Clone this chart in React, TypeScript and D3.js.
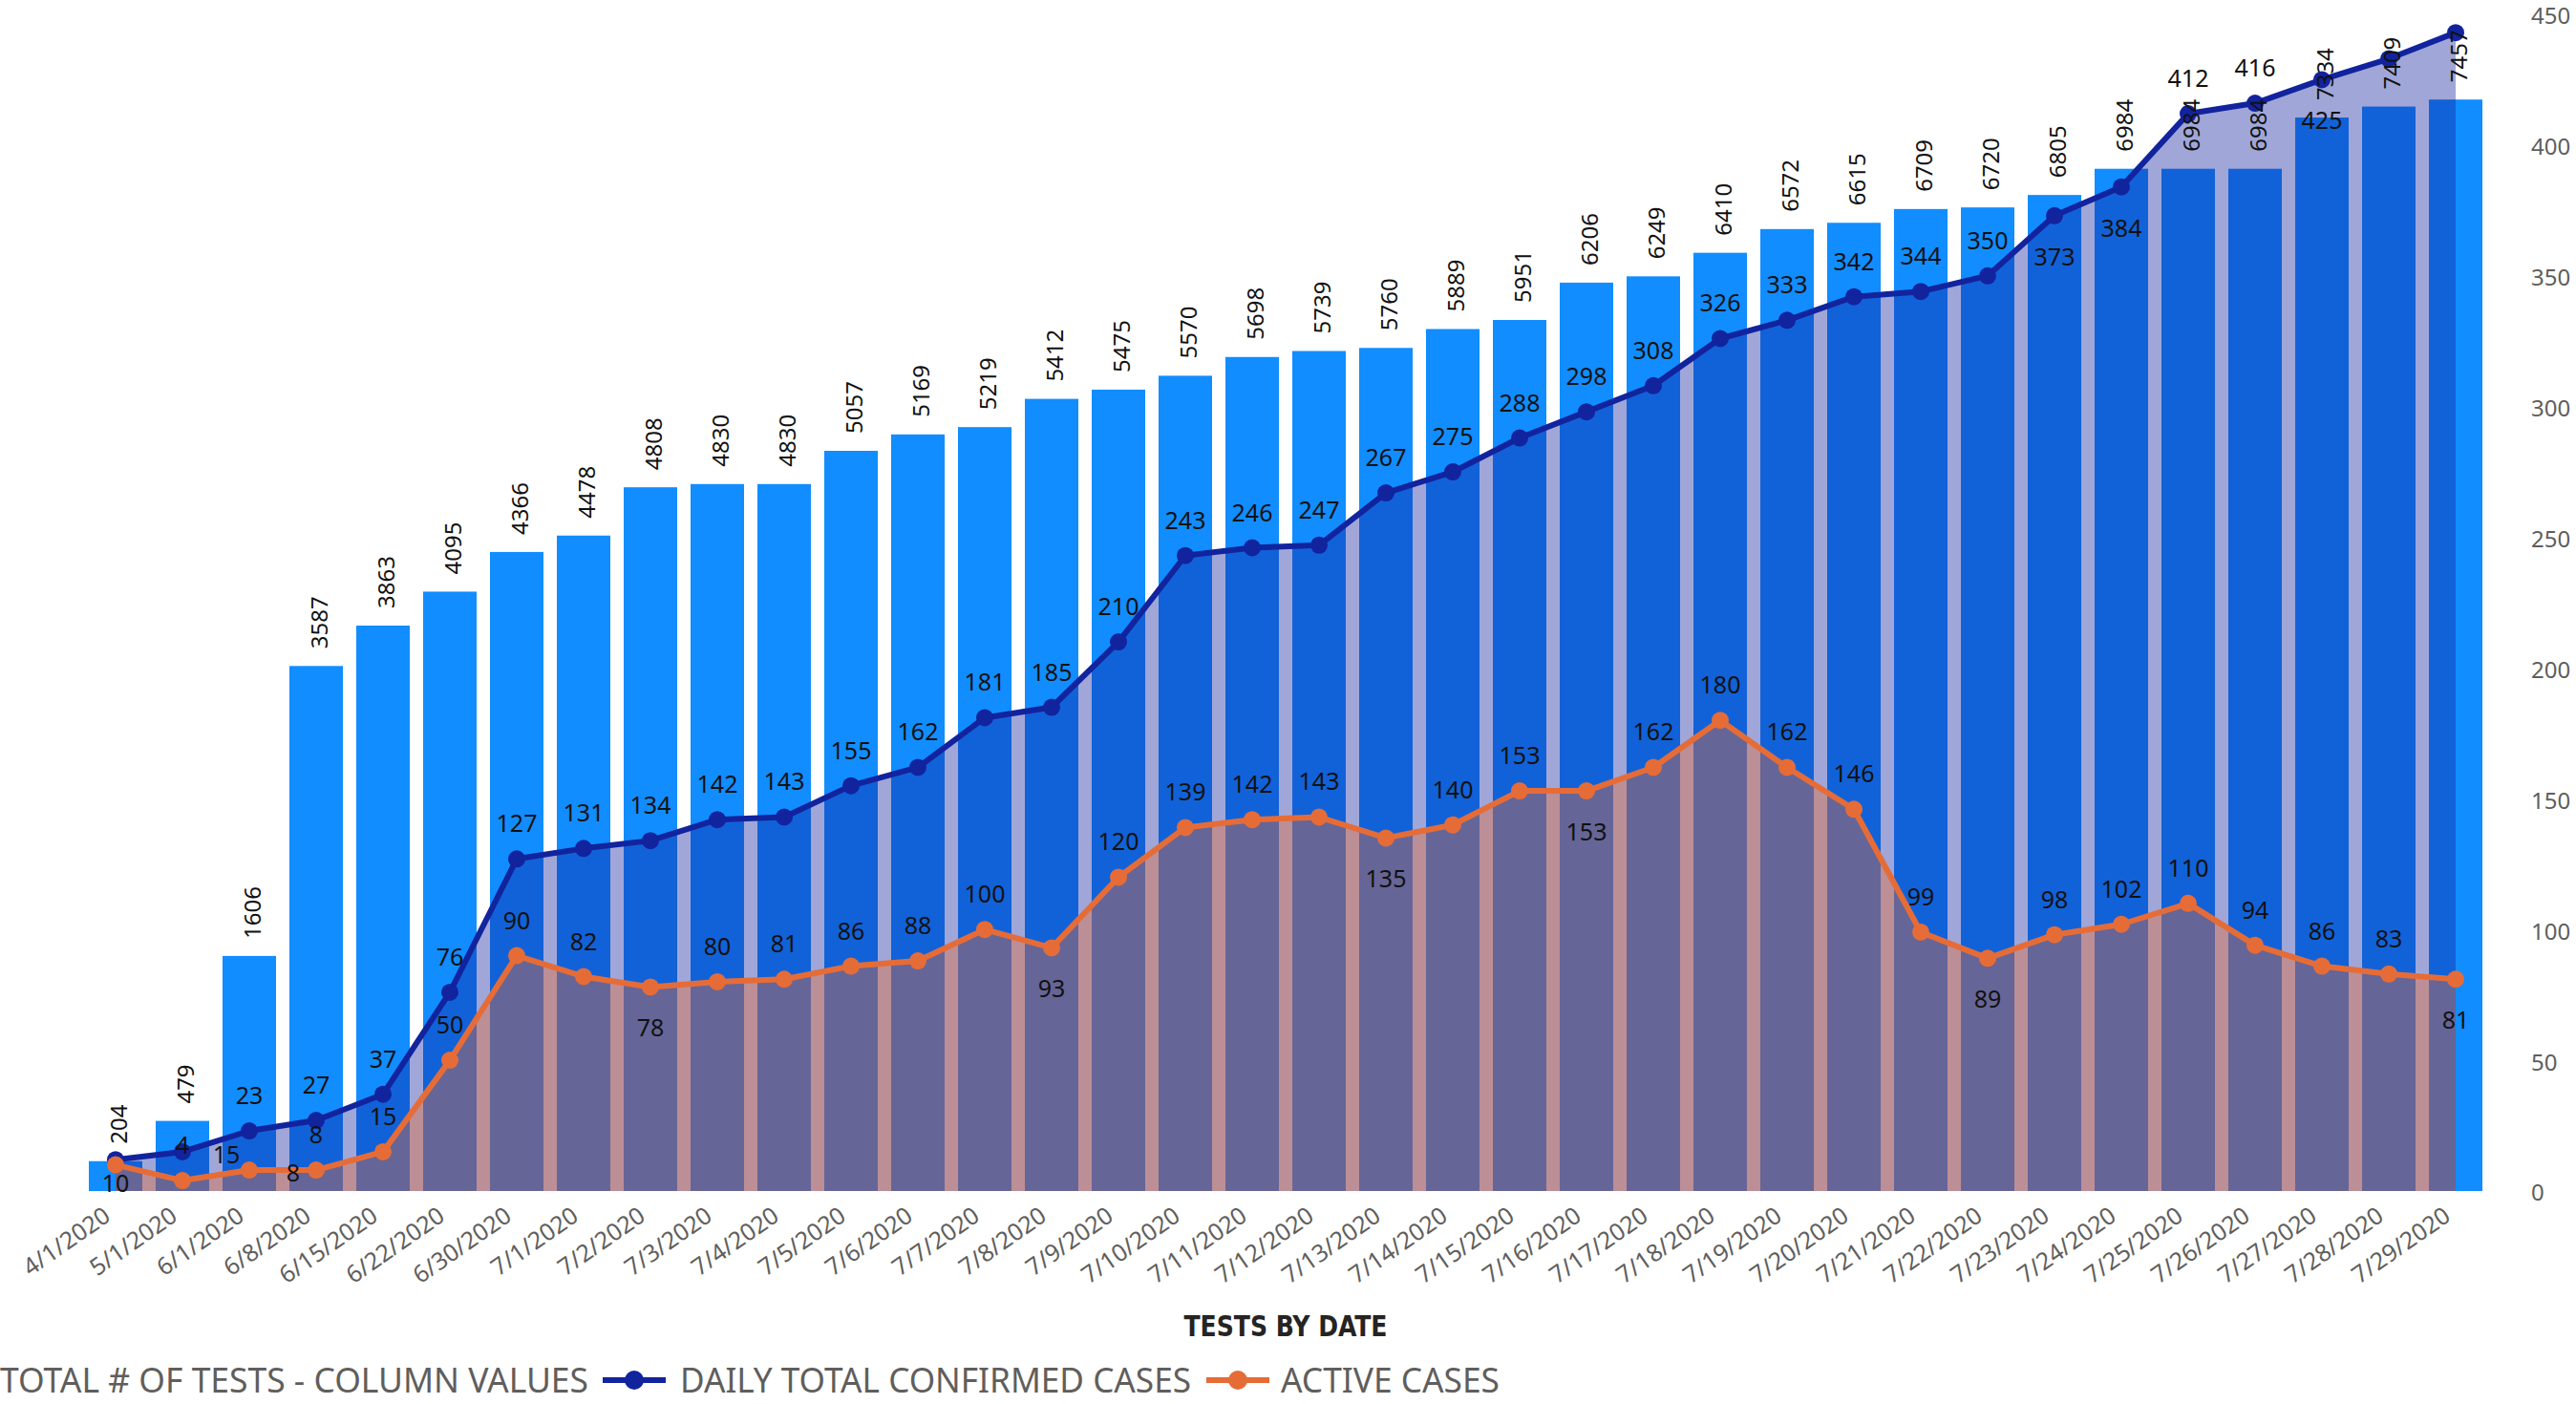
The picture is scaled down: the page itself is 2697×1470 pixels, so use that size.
import React from 'react';
import * as d3 from 'd3';

const categories = [
  '4/1/2020', '5/1/2020', '6/1/2020', '6/8/2020', '6/15/2020', '6/22/2020', '6/30/2020',
  '7/1/2020', '7/2/2020', '7/3/2020', '7/4/2020', '7/5/2020', '7/6/2020', '7/7/2020',
  '7/8/2020', '7/9/2020', '7/10/2020', '7/11/2020', '7/12/2020', '7/13/2020', '7/14/2020',
  '7/15/2020', '7/16/2020', '7/17/2020', '7/18/2020', '7/19/2020', '7/20/2020', '7/21/2020',
  '7/22/2020', '7/23/2020', '7/24/2020', '7/25/2020', '7/26/2020', '7/27/2020', '7/28/2020',
  '7/29/2020',
];

const totalTests = [
  204, 479, 1606, 3587, 3863, 4095, 4366, 4478, 4808, 4830, 4830, 5057, 5169, 5219, 5412,
  5475, 5570, 5698, 5739, 5760, 5889, 5951, 6206, 6249, 6410, 6572, 6615, 6709, 6720, 6805,
  6984, 6984, 6984, 7334, 7409, 7457,
];

const dailyConfirmed = [
  12, 15, 23, 27, 37, 76, 127, 131, 134, 142, 143, 155, 162, 181, 185, 210, 243, 246, 247,
  267, 275, 288, 298, 308, 326, 333, 342, 344, 350, 373, 384, 412, 416, 425, 433, 443,
];

const activeCases = [
  10, 4, 8, 8, 15, 50, 90, 82, 78, 80, 81, 86, 88, 100, 93, 120, 139, 142, 143, 135, 140,
  153, 153, 162, 180, 162, 146, 99, 89, 98, 102, 110, 94, 86, 83, 81,
];

const rightTicks = [0, 50, 100, 150, 200, 250, 300, 350, 400, 450];

// label placement (style config, not data)
const confirmedLabelPlacement = [
  'none', 'right', 'above', 'above', 'above', 'above', 'above', 'above', 'above', 'above',
  'above', 'above', 'above', 'above', 'above', 'above', 'above', 'above', 'above', 'above',
  'above', 'above', 'above', 'above', 'above', 'above', 'above', 'above', 'above', 'below',
  'below', 'above', 'above', 'below', 'none', 'none',
];
const activeLabelPlacement = [
  'below', 'above', 'right', 'above', 'above', 'above', 'above', 'above', 'below', 'above',
  'above', 'above', 'above', 'above', 'below', 'above', 'above', 'above', 'above', 'below',
  'above', 'above', 'below', 'above', 'above', 'above', 'above', 'above', 'below', 'above',
  'above', 'above', 'above', 'above', 'above', 'below',
];

const W = 2697;
const H = 1470;
const FONT = "'Segoe UI', 'Noto Sans', 'Open Sans', sans-serif";
const BAR = '#118DFF';
const NAVY = '#12239E';
const ORANGE = '#E66C37';
const AXIS_GREY = '#605E5C';

export default function App() {
  const plotBottom = 1247;
  const x = d3.scaleBand<string>().domain(categories).range([86, 2606]).paddingInner(0.2).paddingOuter(0.1);
  const yBar = d3.scaleLinear().domain([0, 8000]).range([plotBottom, 21]);
  const yLine = d3.scaleLinear().domain([0, 450]).range([plotBottom, 15]);
  const cx = (i: number) => (x(categories[i]) as number) + x.bandwidth() / 2;

  const area = (vals: number[]) =>
    d3.area<number>().x((_, i) => cx(i)).y0(yLine(0)).y1((d) => yLine(d))(vals) || '';
  const line = (vals: number[]) =>
    d3.line<number>().x((_, i) => cx(i)).y((d) => yLine(d))(vals) || '';

  const lineLabels = (vals: number[], placement: string[], key: string) =>
    vals.map((v, i) => {
      const p = placement[i];
      if (p === 'none') return null;
      const px = cx(i);
      const py = yLine(v);
      let tx = px;
      let ty = py - 28;
      if (p === 'below') ty = Math.min(py + 52, plotBottom + 1);
      if (p === 'right') {
        tx = px + 46;
        ty = py + 12;
      }
      return (
        <text key={key + i} x={tx} y={ty} textAnchor="middle" fontSize={25} fontFamily={FONT} fill="#111">
          {v}
        </text>
      );
    });

  return (
    <svg width={W} height={H} style={{ position: 'absolute', left: 0, top: 0, background: '#fff' }}>
      {/* bars */}
      {totalTests.map((v, i) => (
        <rect key={'b' + i} x={x(categories[i])} y={yBar(v)} width={x.bandwidth()} height={yBar(0) - yBar(v)} fill={BAR} />
      ))}
      {/* areas */}
      <path d={area(dailyConfirmed)} fill={NAVY} fillOpacity={0.4} />
      <path d={area(activeCases)} fill={ORANGE} fillOpacity={0.4} />
      {/* lines */}
      <path d={line(dailyConfirmed)} fill="none" stroke={NAVY} strokeWidth={6} strokeLinejoin="round" />
      {dailyConfirmed.map((v, i) => (
        <circle key={'cm' + i} cx={cx(i)} cy={yLine(v)} r={9} fill={NAVY} />
      ))}
      <path d={line(activeCases)} fill="none" stroke={ORANGE} strokeWidth={6} strokeLinejoin="round" />
      {activeCases.map((v, i) => (
        <circle key={'am' + i} cx={cx(i)} cy={yLine(v)} r={9} fill={ORANGE} />
      ))}
      {/* bar labels */}
      {totalTests.map((v, i) => (
        <text
          key={'bl' + i}
          transform={`translate(${cx(i) + 4},${yBar(v) - 18}) rotate(-90)`}
          dy="0.35em"
          textAnchor="start"
          fontSize={24}
          fontFamily={FONT}
          fill="#111"
        >
          {v}
        </text>
      ))}
      {lineLabels(dailyConfirmed, confirmedLabelPlacement, 'cl')}
      {lineLabels(activeCases, activeLabelPlacement, 'al')}
      {/* right axis */}
      {rightTicks.map((t) => (
        <text key={'rt' + t} x={2650} y={yLine(t) + 2} dy="0.35em" fontSize={24} fontFamily={FONT} fill={AXIS_GREY}>
          {t}
        </text>
      ))}
      {/* x axis labels */}
      {categories.map((c, i) => (
        <text
          key={'xl' + i}
          transform={`translate(${cx(i) - 14},1262) rotate(-35)`}
          dy="0.72em"
          textAnchor="end"
          fontSize={25}
          fontFamily={FONT}
          fill={AXIS_GREY}
        >
          {c}
        </text>
      ))}
      {/* axis title */}
      <text x={1346} y={1399} textAnchor="middle" fontSize={31} fontWeight={600} fontFamily="'DejaVu Sans Condensed', 'Liberation Sans Narrow', 'Roboto', sans-serif" fill="#252423" textLength={213} lengthAdjust="spacingAndGlyphs">
        TESTS BY DATE
      </text>
      {/* legend */}
      <g fontFamily={FONT} fontSize={37} fill={AXIS_GREY}>
        <text x={0} y={1458} textLength={616} lengthAdjust="spacingAndGlyphs">TOTAL # OF TESTS - COLUMN VALUES</text>
        <line x1={631} x2={697} y1={1445} y2={1445} stroke={NAVY} strokeWidth={6} />
        <circle cx={664} cy={1445} r={10} fill={NAVY} />
        <text x={712} y={1458} textLength={535} lengthAdjust="spacingAndGlyphs">DAILY TOTAL CONFIRMED CASES</text>
        <line x1={1263} x2={1329} y1={1445} y2={1445} stroke={ORANGE} strokeWidth={6} />
        <circle cx={1296} cy={1445} r={10} fill={ORANGE} />
        <text x={1341} y={1458} textLength={229} lengthAdjust="spacingAndGlyphs">ACTIVE CASES</text>
      </g>
    </svg>
  );
}
